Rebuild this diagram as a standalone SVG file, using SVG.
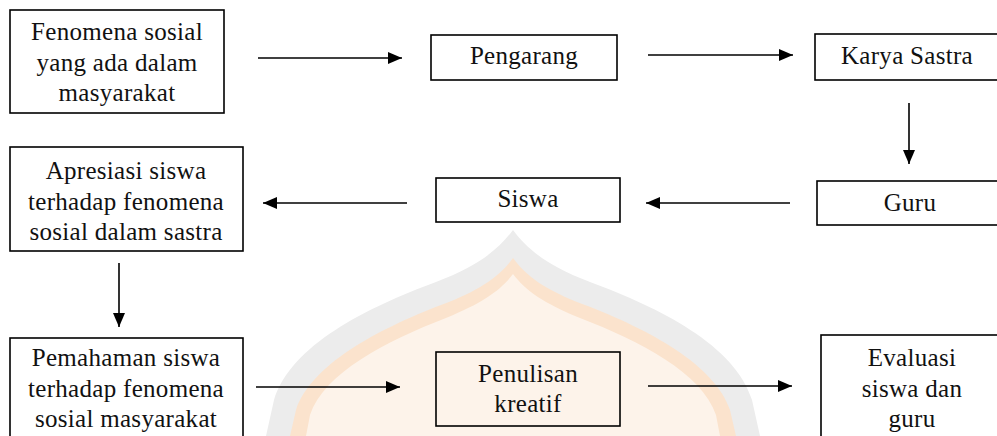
<svg xmlns="http://www.w3.org/2000/svg" width="997" height="436" viewBox="0 0 997 436">
  <defs>
    <marker id="arrow" markerUnits="userSpaceOnUse" markerWidth="16" markerHeight="14" refX="14" refY="6" orient="auto">
      <path d="M0,0 L14,6 L0,12 Z" fill="#000"/>
    </marker>
    <style>
      .box { fill: none; stroke: #000; stroke-width: 1.6; }
      .lbl { font-family: "Liberation Serif", "Times New Roman", serif; font-size: 25px; letter-spacing: 0.3px; fill: #111; text-anchor: middle; }
      .link { stroke: #000; stroke-width: 1.6; fill: none; marker-end: url(#arrow); }
    </style>
  </defs>

  <rect width="997" height="436" fill="#fff"/>

  <!-- faint background emblem -->
  <g id="emblem">
    <path d="M513 230 C528 250 548 266 590 282 C660 308 735 345 752 400 L760 436 L266 436 L274 400 C291 345 366 308 436 282 C478 266 498 250 513 230 Z" fill="#ececec"/>
    <path d="M513 258 C526 276 545 290 585 305 C650 330 715 365 730 410 L736 436 L290 436 L296 410 C311 365 376 330 441 305 C481 290 500 276 513 258 Z" fill="#fbe3cd"/>
    <path d="M513 274 C525 290 543 303 580 318 C640 341 702 373 716 415 L720 436 L306 436 L310 415 C324 373 386 341 446 318 C483 303 501 290 513 274 Z" fill="#fdf3ea"/>
  </g>

  <!-- row 1 -->
  <g id="fenomena">
    <rect class="box" x="10" y="10" width="214" height="103"/>
    <text class="lbl" x="117" y="40">Fenomena sosial</text>
    <text class="lbl" x="117" y="71">yang ada dalam</text>
    <text class="lbl" x="117" y="101">masyarakat</text>
  </g>
  <g id="pengarang">
    <rect class="box" x="431" y="35" width="186" height="45"/>
    <text class="lbl" x="524" y="64">Pengarang</text>
  </g>
  <g id="karya-sastra">
    <rect class="box" x="815" y="34" width="200" height="46"/>
    <text class="lbl" x="907" y="64">Karya Sastra</text>
  </g>

  <!-- row 2 -->
  <g id="apresiasi">
    <rect class="box" x="10" y="147" width="233" height="104"/>
    <text class="lbl" x="126" y="179">Apresiasi siswa</text>
    <text class="lbl" x="126" y="210">terhadap fenomena</text>
    <text class="lbl" x="126" y="240">sosial dalam sastra</text>
  </g>
  <g id="siswa">
    <rect class="box" x="436" y="178" width="184" height="44"/>
    <text class="lbl" x="528" y="207">Siswa</text>
  </g>
  <g id="guru">
    <rect class="box" x="817" y="181" width="200" height="44"/>
    <text class="lbl" x="910" y="211">Guru</text>
  </g>

  <!-- row 3 -->
  <g id="pemahaman">
    <rect class="box" x="10" y="338" width="233" height="120"/>
    <text class="lbl" x="126" y="366">Pemahaman siswa</text>
    <text class="lbl" x="126" y="397">terhadap fenomena</text>
    <text class="lbl" x="126" y="427">sosial masyarakat</text>
  </g>
  <g id="penulisan">
    <rect class="box" x="436" y="352" width="184" height="74"/>
    <text class="lbl" x="528" y="382">Penulisan</text>
    <text class="lbl" x="528" y="412">kreatif</text>
  </g>
  <g id="evaluasi">
    <rect class="box" x="821" y="335" width="200" height="120"/>
    <text class="lbl" x="912" y="366">Evaluasi</text>
    <text class="lbl" x="912" y="397">siswa dan</text>
    <text class="lbl" x="912" y="427">guru</text>
  </g>

  <!-- connectors -->
  <g id="connectors">
    <line class="link" x1="258" y1="58" x2="402" y2="58"/>
    <line class="link" x1="648" y1="55" x2="793" y2="55"/>
    <line class="link" x1="909" y1="103" x2="909" y2="164"/>
    <line class="link" x1="790" y1="203" x2="646" y2="203"/>
    <line class="link" x1="407" y1="203" x2="263" y2="203"/>
    <line class="link" x1="119" y1="263" x2="119" y2="327"/>
    <line class="link" x1="256" y1="387" x2="400" y2="387"/>
    <line class="link" x1="648" y1="386" x2="792" y2="386"/>
  </g>
</svg>
